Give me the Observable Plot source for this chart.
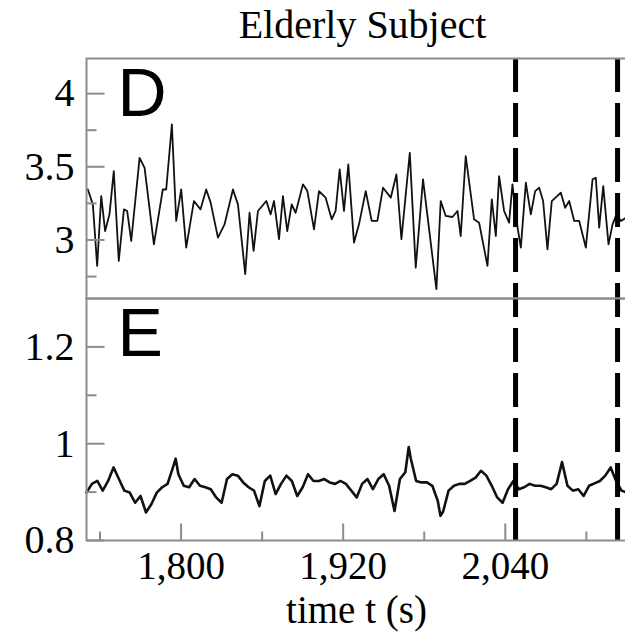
<!DOCTYPE html>
<html><head><meta charset="utf-8">
<script src="https://cdn.jsdelivr.net/npm/d3@7"></script>
<script src="https://cdn.jsdelivr.net/npm/@observablehq/plot@0.6"></script>
<style>
html,body{margin:0;padding:0;background:#fff;overflow:hidden;width:625px;height:633px}
#wrap{position:relative;width:625px;height:633px;overflow:hidden;background:#fff}
#wrap svg{position:absolute;left:0}
</style></head><body><div id="wrap"></div>
<script>
// ---- text ----
const titleText = "Elderly Subject";
const xLabel = "time t (s)";
const dLabel = "D";
const eLabel = "E";

// ---- x axis ----
const xDomain = [1730, 2138.6];
const xMajor = [1800, 1920, 2040];
const xMinor = [1740, 1860, 1980, 2100];
const markers = [2047.6, 2123.1];

// ---- panel D ----
const dDomain = [2.60, 4.24];
const dMajor = [3, 3.5, 4];
const dMinor = [2.75, 3.25, 3.75];
const dTime = [1731.0,1734.7,1737.9,1740.9,1743.8,1747.0,1750.2,1753.9,1757.7,1760.1,1763.1,1769.3,1773.0,1779.9,1786.5,1789.0,1793.2,1796.4,1800.1,1803.8,1809.5,1814.4,1818.6,1821.9,1827.3,1832.2,1838.4,1842.1,1847.5,1850.7,1853.7,1856.9,1863.1,1866.3,1868.8,1872.5,1875.4,1878.6,1881.9,1884.8,1890.2,1893.5,1898.4,1902.1,1907.0,1911.5,1914.4,1917.4,1920.6,1923.8,1928.0,1931.7,1936.7,1941.1,1945.3,1949.5,1955.2,1959.4,1963.1,1969.3,1973.7,1979.1,1989.0,1992.2,1995.9,2000.9,2004.6,2007.0,2010.7,2016.9,2020.6,2026.8,2030.0,2033.0,2035.4,2039.1,2042.8,2045.3,2048.3,2051.5,2055.2,2058.9,2062.1,2065.1,2068.0,2071.2,2074.4,2081.1,2084.3,2087.3,2091.0,2094.7,2099.6,2104.6,2107.0,2109.5,2112.5,2116.4,2119.4,2122.3,2125.6,2129.3];
const dValue = [3.345,3.243,2.823,3.30,3.061,3.175,3.47,2.857,3.209,3.198,2.993,3.561,3.493,2.97,3.345,3.345,3.789,3.13,3.345,2.948,3.266,3.209,3.345,3.255,3.016,3.107,3.345,3.243,2.766,3.186,2.925,3.198,3.266,3.175,3.266,3.005,3.30,3.061,3.243,3.186,3.38,3.334,3.073,3.334,3.289,3.141,3.198,3.482,3.198,3.516,2.982,3.107,3.334,3.13,3.13,3.357,3.289,3.448,3.005,3.595,2.811,3.414,2.664,3.266,3.164,3.157,3.198,3.027,3.573,3.141,3.118,2.823,3.277,3.027,3.436,3.198,3.118,3.38,3.130,2.948,3.391,3.175,3.334,3.357,3.266,2.936,3.266,3.323,3.22,3.266,3.13,3.13,2.948,3.414,3.425,3.084,3.368,2.97,3.107,3.175,3.13,3.152];

// ---- panel E ----
const eDomain = [0.8, 1.3];
const eMajor = [0.8, 1, 1.2];
const eMinor = [0.9, 1.1];
const eTime = [1730,1734,1738,1742,1746,1750,1754,1758,1762,1766,1770,1774,1778,1782,1786,1790,1794,1796,1798,1802,1806,1810,1814,1818,1822,1826,1830,1834,1838,1842,1846,1850,1854,1858,1862,1866,1870,1874,1878,1882,1886,1890,1894,1898,1902,1906,1910,1914,1918,1922,1926,1930,1934,1938,1942,1946,1950,1954,1958,1962,1966,1968.5,1970,1974,1978,1982,1986,1990,1992,1994,1998,2002,2006,2010,2014,2018,2022,2026,2030,2034,2038,2042,2046,2050,2054,2058,2062,2066,2070,2074,2078,2082,2086,2090,2094,2098,2102,2106,2110,2114,2118,2122,2126,2130];
const eValue = [0.899,0.917,0.923,0.903,0.923,0.951,0.927,0.903,0.899,0.878,0.892,0.858,0.875,0.899,0.910,0.917,0.951,0.969,0.937,0.913,0.910,0.927,0.913,0.910,0.906,0.889,0.878,0.927,0.937,0.934,0.920,0.910,0.903,0.871,0.923,0.934,0.896,0.917,0.934,0.923,0.892,0.910,0.937,0.923,0.923,0.927,0.920,0.917,0.923,0.917,0.903,0.889,0.917,0.927,0.906,0.927,0.937,0.913,0.861,0.927,0.941,0.993,0.970,0.923,0.920,0.920,0.913,0.882,0.851,0.860,0.903,0.913,0.917,0.917,0.923,0.930,0.944,0.934,0.913,0.889,0.878,0.906,0.923,0.906,0.910,0.917,0.913,0.913,0.910,0.906,0.917,0.962,0.913,0.903,0.906,0.892,0.913,0.918,0.923,0.934,0.951,0.923,0.903,0.899];

// ---- build ----
const D = dTime.map((t, i) => ({t, v: dValue[i]}));
const E = eTime.map((t, i) => ({t, v: eValue[i]}));

const W = 640, ML = 86, MR = 2;
const frameColor = "#8c8c8c";
const serif = "'Liberation Serif','Times New Roman',serif";
const sans = "'Liberation Sans',Arial,sans-serif";
const tickShape = {draw(c, l) { c.moveTo(0, 0); c.lineTo(0, -l); }};
const svgStyle = {fontFamily: serif, background: "transparent", maxWidth: "none", overflow: "visible", color: "black"};
const fmt = d => String(d);

function yTicks(values, len, x0) {
  return Plot.vector(values, {x: x0, y: d => d, length: len, rotate: 90, anchor: "start",
    shape: tickShape, stroke: frameColor, strokeWidth: 2, strokeLinecap: "butt"});
}
function xTicks(values, len, y0) {
  return Plot.vector(values, {x: d => d, y: y0, length: len, rotate: 0, anchor: "start",
    shape: tickShape, stroke: frameColor, strokeWidth: 2, strokeLinecap: "butt"});
}

const plotD = Plot.plot({
  width: W, height: 300, marginTop: 58, marginBottom: 2, marginLeft: ML, marginRight: MR,
  style: svgStyle,
  x: {domain: xDomain},
  y: {domain: dDomain},
  marks: [
    Plot.lineY(D, {x: "t", y: "v", stroke: "#111", strokeWidth: 1.8}),
    Plot.ruleX(markers, {stroke: "black", strokeWidth: 5, strokeDasharray: "34,11"}),
    yTicks(dMajor, 18, xDomain[0]),
    yTicks(dMinor, 10, xDomain[0]),
    Plot.frame({stroke: frameColor, strokeWidth: 2}),
    Plot.axisY({ticks: dMajor, tickSize: 0, tickPadding: 12, tickFormat: fmt, fontSize: 40, label: null}),
    Plot.axisX({ticks: [], label: null, tickSize: 0}),
    Plot.text([dLabel], {frameAnchor: "top-left", text: d => d, dx: 31, dy: 57, lineAnchor: "bottom",
      textAnchor: "start", fontSize: 68, fontFamily: sans}),
    Plot.text([titleText], {frameAnchor: "top", text: d => d, dy: -21, lineAnchor: "bottom", fontSize: 40})
  ]
});

const plotE = Plot.plot({
  width: W, height: 345, marginTop: 10, marginBottom: 93, marginLeft: ML, marginRight: MR,
  style: svgStyle,
  x: {domain: xDomain},
  y: {domain: eDomain},
  marks: [
    Plot.lineY(E, {x: "t", y: "v", stroke: "#111", strokeWidth: 2.6}),
    Plot.ruleX(markers, {stroke: "black", strokeWidth: 5, strokeDasharray: "34,11", strokeDashoffset: 15}),
    yTicks(eMajor, 18, xDomain[0]),
    yTicks(eMinor, 10, xDomain[0]),
    xTicks(xMajor, 17, eDomain[0]),
    xTicks(xMinor, 9, eDomain[0]),
    Plot.frame({stroke: frameColor, strokeWidth: 2}),
    Plot.axisY({ticks: eMajor, tickSize: 0, tickPadding: 12, tickFormat: fmt, fontSize: 40, label: null}),
    Plot.axisX({ticks: xMajor, tickSize: 0, tickPadding: 11, tickFormat: d3.format(","), fontSize: 39, label: null}),
    Plot.text([eLabel], {frameAnchor: "top-left", text: d => d, dx: 31, dy: 57, lineAnchor: "bottom",
      textAnchor: "start", fontSize: 68, fontFamily: sans}),
    Plot.text([xLabel], {frameAnchor: "bottom", text: d => d, dx: -6, dy: 82, lineAnchor: "bottom", fontSize: 39})
  ]
});

const wrap = document.getElementById("wrap");
plotD.style.top = "0px";
plotE.style.top = "288px";
wrap.appendChild(plotD);
wrap.appendChild(plotE);
</script>
</body></html>
